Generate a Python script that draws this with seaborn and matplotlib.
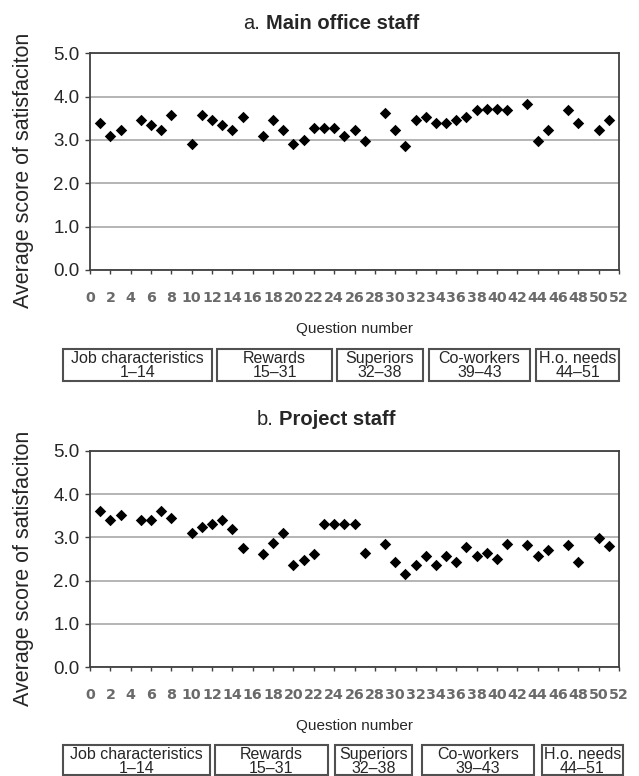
import matplotlib
matplotlib.use('Agg')
import matplotlib.pyplot as plt
import seaborn as sns
import pandas as pd
from matplotlib.patches import Rectangle

# question numbers that have a score (same in both panels)
questions = [1, 2, 3, 5, 6, 7, 8, 10, 11, 12, 13, 14, 15, 17, 18, 19, 20, 21, 22,
             23, 24, 25, 26, 27, 29, 30, 31, 32, 33, 34, 35, 36, 37, 38, 39, 40,
             41, 43, 44, 45, 47, 48, 50, 51]

main_office = [3.40, 3.10, 3.22, 3.45, 3.34, 3.22, 3.58, 2.90, 3.58, 3.45, 3.34,
               3.22, 3.52, 3.10, 3.45, 3.22, 2.90, 3.00, 3.28, 3.28, 3.28, 3.10,
               3.22, 2.98, 3.63, 3.22, 2.86, 3.45, 3.52, 3.39, 3.39, 3.45, 3.52,
               3.69, 3.71, 3.71, 3.69, 3.83, 2.98, 3.22, 3.69, 3.39, 3.22, 3.45]

project = [3.61, 3.40, 3.51, 3.40, 3.40, 3.61, 3.45, 3.11, 3.25, 3.31, 3.40,
           3.19, 2.76, 2.61, 2.86, 3.11, 2.35, 2.47, 2.62, 3.31, 3.31, 3.31,
           3.31, 2.65, 2.85, 2.44, 2.15, 2.36, 2.57, 2.36, 2.57, 2.44, 2.77,
           2.57, 2.65, 2.50, 2.85, 2.82, 2.57, 2.71, 2.82, 2.42, 2.98, 2.81]

x_ticks = list(range(0, 53, 2))
y_ticks = [0.0, 1.0, 2.0, 3.0, 4.0, 5.0]

groups = ['Job characteristics', 'Rewards', 'Superiors', 'Co-workers', 'H.o. needs']
group_ranges = ['1\u201314', '15\u201331', '32\u201338', '39\u201343', '44\u201351']

W, H = 639, 776

sns.set_style('white')
plt.rcParams['font.family'] = ['Liberation Sans', 'DejaVu Sans']

fig = plt.figure(figsize=(W / 100, H / 100), dpi=100)


def fx(px):
    return px / W


def fy(py):
    return 1 - py / H


# layout of each panel in pixels
panels = [
    dict(prefix='a.', title='Main office staff', values=main_office,
         top=53.3, bottom=270, tx=243, tx2=266.5, ty=29,
         boxes=[(63, 212), (217, 332), (337, 423), (429, 530), (536, 619)],
         box_top=349, box_bottom=381),
    dict(prefix='b.', title='Project staff', values=project,
         top=450.7, bottom=667.3, tx=257, tx2=279, ty=425,
         boxes=[(63, 210), (215, 328), (335, 412), (422, 534), (542, 623)],
         box_top=745, box_bottom=775),
]

left, right = 90, 619

for p in panels:
    df = pd.DataFrame({'Question': questions, 'Score': p['values']})
    ax = fig.add_axes([fx(left), fy(p['bottom']), (right - left) / W,
                       (p['bottom'] - p['top']) / H])
    sns.scatterplot(data=df, x='Question', y='Score', marker='D', s=34,
                    color='black', linewidth=0, ax=ax, zorder=3)

    ax.set_xlim(0, 52)
    ax.set_ylim(0, 5)
    ax.set_xticks(x_ticks)
    ax.set_xticklabels([str(t) for t in x_ticks], fontsize=10.3,
                       family='DejaVu Sans', fontweight='bold', color='#6a6a6a')
    ax.set_yticks(y_ticks)
    ax.set_yticklabels([f'{v:.1f}' for v in y_ticks], fontsize=13.5)
    ax.tick_params(axis='x', direction='out', length=3, width=1,
                   color='#404040', pad=12, bottom=True)
    ax.tick_params(axis='y', direction='out', length=3.6, width=1,
                   color='#404040', pad=4, left=True)
    ax.grid(axis='y', color='#a8a8a8', linewidth=1.2)
    ax.set_axisbelow(True)
    for s in ax.spines.values():
        s.set_visible(True)
        s.set_color('#404040')
        s.set_linewidth(1.3)

    ax.set_xlabel('')
    ax.set_ylabel('Average score of satisfaciton', fontsize=15.5, va='center')
    ax.yaxis.set_label_coords((24 - left) / (right - left), 0.459)

    # title: regular prefix + bold name
    fig.text(fx(p['tx']), fy(p['ty']), p['prefix'], fontsize=14.5,
             ha='left', va='baseline')
    fig.text(fx(p['tx2']), fy(p['ty']), p['title'], fontsize=14.5,
             fontweight='bold', ha='left', va='baseline')

    fig.text(fx(355), fy(p['bottom'] + 63), 'Question number', fontsize=11,
             ha='center', va='baseline')

    # group boxes under the axis
    for (x0, x1), name, rng in zip(p['boxes'], groups, group_ranges):
        fig.patches.append(Rectangle((fx(x0), fy(p['box_bottom'])),
                                     (x1 - x0) / W,
                                     (p['box_bottom'] - p['box_top']) / H,
                                     transform=fig.transFigure, fill=False,
                                     edgecolor='#505050', linewidth=1.5))
        cx = fx((x0 + x1) / 2)
        fig.text(cx, fy(p['box_top'] + 14), name, fontsize=11.5,
                 ha='center', va='baseline')
        fig.text(cx, fy(p['box_top'] + 28), rng, fontsize=11.5,
                 ha='center', va='baseline')

fig.savefig('out.png', dpi=100)
plt.close(fig)
